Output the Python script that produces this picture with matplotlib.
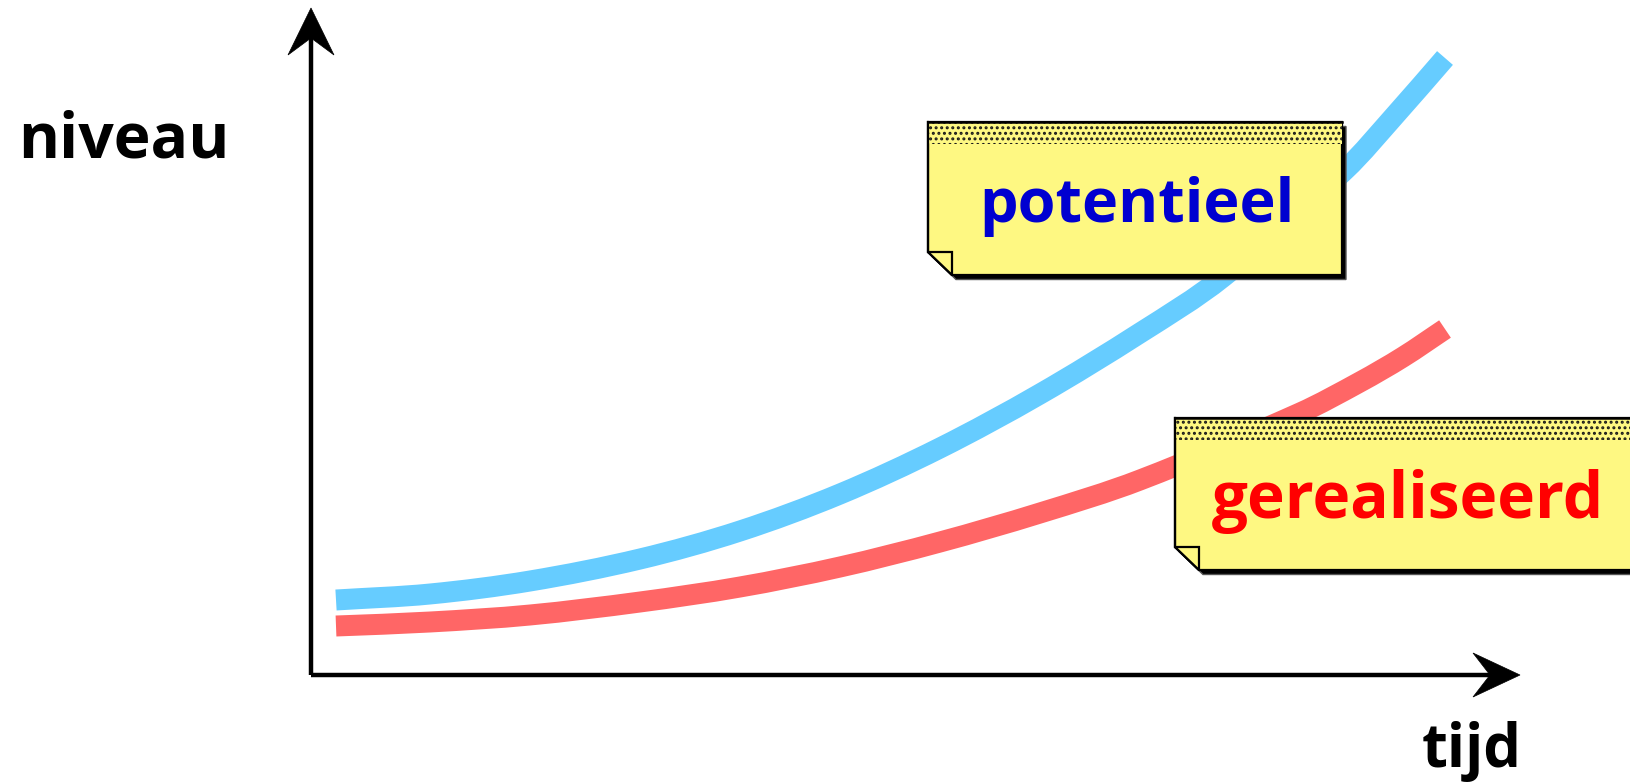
import matplotlib
matplotlib.use('Agg')
import matplotlib.pyplot as plt
from matplotlib.patches import Polygon, PathPatch
from matplotlib.path import Path
import numpy as np

plt.rcParams['font.family'] = ['Open Sans', 'DejaVu Sans']
plt.rcParams['hatch.linewidth'] = 1.4

# tijd (x) en niveau (y)
tijd_potentieel = [2.5, 11.9, 21.9, 32.9, 42.9, 52.9, 62.9, 72.9, 82.9, 91.2, 103.4, 108.6, 113.4]
niveau_potentieel = [7.5, 8.1, 9.4, 11.6, 14.4, 18.1, 22.7, 28.1, 34.2, 39.8, 50.5, 56.2, 61.7]

tijd_gerealiseerd = [2.5, 11.9, 21.9, 32.9, 42.9, 52.9, 62.9, 72.9, 82.9, 98.9, 104.9, 109.2, 113.4]
niveau_gerealiseerd = [4.9, 5.3, 6.0, 7.3, 8.8, 10.8, 13.3, 16.2, 19.5, 26.2, 29.3, 31.8, 34.6]

labels = ['potentieel', 'gerealiseerd']
line_colors = ['#66CCFF', '#FF6666']
text_colors = ['#0000D0', '#FF0000']

NOTE_YELLOW = '#FEF882'

fig = plt.figure(figsize=(16.3, 7.84), dpi=100)
ax = fig.add_axes([0, 0, 1, 1])
ax.set_xlim(-31.1, 131.9)
ax.set_ylim(-10.9, 67.5)
ax.axis('off')


def smooth_path(xs, ys):
    """vloeiende lijn door de punten (Bezier-segmenten, helling uit de buren)"""
    x = np.asarray(xs, float)
    y = np.asarray(ys, float)
    n = len(x)
    m = np.empty(n)
    m[0] = (y[1] - y[0]) / (x[1] - x[0])
    m[-1] = (y[-1] - y[-2]) / (x[-1] - x[-2])
    m[1:-1] = (y[2:] - y[:-2]) / (x[2:] - x[:-2])
    verts = [(x[0], y[0])]
    codes = [Path.MOVETO]
    for i in range(n - 1):
        h = (x[i + 1] - x[i]) / 3
        verts += [(x[i] + h, y[i] + m[i] * h),
                  (x[i + 1] - h, y[i + 1] - m[i + 1] * h),
                  (x[i + 1], y[i + 1])]
        codes += [Path.CURVE4] * 3
    return Path(verts, codes)


# curves
for xs, ys, c in [(tijd_potentieel, niveau_potentieel, line_colors[0]),
                  (tijd_gerealiseerd, niveau_gerealiseerd, line_colors[1])]:
    ax.add_patch(PathPatch(smooth_path(xs, ys), fill=False, ec=c, lw=15.1,
                           capstyle='butt', joinstyle='round', zorder=2))

# assen met pijlpunten
x_tip, y_tip = 120.9, 66.7
ax.plot([0, x_tip - 3.0], [0, 0], color='black', lw=3.2, solid_capstyle='butt', zorder=3)
ax.plot([0, 0], [0, y_tip - 3.0], color='black', lw=3.2, solid_capstyle='butt', zorder=3)
ax.add_patch(Polygon([[x_tip, 0], [x_tip - 4.7, 2.2], [x_tip - 3.0, 0], [x_tip - 4.7, -2.2]],
                     closed=True, fc='black', ec='black', lw=0.5, zorder=3))
ax.add_patch(Polygon([[0, y_tip], [-2.3, y_tip - 4.7], [0, y_tip - 3.0], [2.3, y_tip - 4.7]],
                     closed=True, fc='black', ec='black', lw=0.5, zorder=3))

ax.text(-29.3, 51.8, 'niveau', fontsize=45, fontweight='bold', ha='left', va='baseline')
ax.text(111.1, -9.2, 'tijd', fontsize=43, fontweight='bold', ha='left', va='baseline')


def note(x0, x1, y0, y1, text, color, tx, ty, size):
    """geeltje met schaduw, gestippelde kop en omgevouwen hoek"""
    fx, fy = 2.4, 2.3
    outline = [[x0, y1], [x1, y1], [x1, y0], [x0 + fx, y0], [x0, y0 + fy]]
    shadow = [[px + 0.4, py - 0.45] for px, py in outline]
    ax.add_patch(Polygon(shadow, closed=True, fc='black', ec='#555555', lw=1.0, zorder=4))
    ax.add_patch(Polygon(outline, closed=True, fc=NOTE_YELLOW, ec='black', lw=1.6, zorder=5))
    hdr = y1 - 2.15
    ax.add_patch(Polygon([[x0, y1], [x1, y1], [x1, hdr], [x0, hdr]], closed=True,
                         fc=NOTE_YELLOW, ec='#1a1a1a', hatch='...', lw=0, zorder=6))
    ax.plot([x0, x1], [y1, y1], color='black', lw=1.8, zorder=7)
    ax.plot([x0, x0], [y1, y0 + fy], color='black', lw=1.6, zorder=7)
    ax.add_patch(Polygon([[x0, y0 + fy], [x0 + fx, y0 + fy], [x0 + fx, y0]], closed=True,
                         fc=NOTE_YELLOW, ec='black', lw=1.6, zorder=7))
    ax.text(tx, ty, text, color=color, fontsize=size, fontweight='bold',
            ha='center', va='baseline', zorder=8)


note(61.7, 103.1, 40.0, 55.3, labels[0], text_colors[0], 82.6, 45.3, 44)
note(86.4, 140.0, 10.5, 25.7, labels[1], text_colors[1], 109.7, 15.7, 46)

fig.savefig('out.png', dpi=100, facecolor='white')
